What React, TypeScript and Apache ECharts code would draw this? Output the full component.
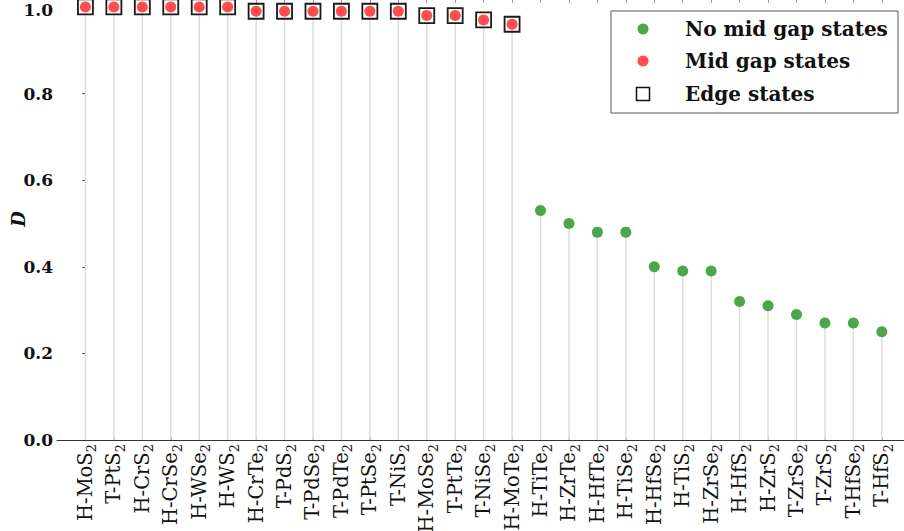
import React, { useEffect, useRef } from "react";
import * as echarts from "echarts";

// Materials with mid-gap / edge states, sorted by D
const edgeMaterials = [
  "H-MoS2", "T-PtS2", "H-CrS2", "H-CrSe2", "H-WSe2", "H-WS2", "H-CrTe2", "T-PdS2",
  "T-PdSe2", "T-PdTe2", "T-PtSe2", "T-NiS2", "H-MoSe2", "T-PtTe2", "T-NiSe2", "H-MoTe2",
];
const edgeValues = [
  1.0, 1.0, 1.0, 1.0, 1.0, 1.0, 0.99, 0.99,
  0.99, 0.99, 0.99, 0.99, 0.98, 0.98, 0.97, 0.96,
];

// Materials without mid-gap states
const bulkMaterials = [
  "H-TiTe2", "H-ZrTe2", "H-HfTe2", "H-TiSe2", "H-HfSe2", "H-TiS2", "H-ZrSe2",
  "H-HfS2", "H-ZrS2", "T-ZrSe2", "T-ZrS2", "T-HfSe2", "T-HfS2",
];
const bulkValues = [0.53, 0.5, 0.48, 0.48, 0.4, 0.39, 0.39, 0.32, 0.31, 0.29, 0.27, 0.27, 0.25];

const yTicks = [0, 0.2, 0.4, 0.6, 0.8, 1.0];
const yTitle = "D";
const legendNames = ["No mid gap states", "Mid gap states", "Edge states"];

const SERIF = "'DejaVu Serif', serif";
const RED = "#ff4d4d";
const GREEN = "#4ca64c";

const categories = [...edgeMaterials, ...bulkMaterials];
const positions = categories.map((_, i) => i);
const edgeData = edgeValues.map((v, i) => [i, v]);
const bulkData = bulkValues.map((v, i) => [edgeMaterials.length + i, v]);

function formulaLabel(name: string): string {
  const m = name.match(/^(.*?)(\d+)$/);
  if (!m) return `{m|${name}}`;
  return `{m|${m[1]}}{s|${m[2]}}`;
}

export default function App() {
  const ref = useRef<HTMLDivElement>(null);

  useEffect(() => {
    if (!ref.current) return;
    const chart = echarts.init(ref.current, null, { renderer: "svg" });

    const legendRows = [29, 61, 94];
    const graphic: any[] = [
      // y-axis title
      {
        type: "text",
        x: 18,
        y: 219,
        rotation: Math.PI / 2,
        style: {
          text: yTitle,
          fontFamily: SERIF,
          fontStyle: "italic",
          fontWeight: "bold",
          fontSize: 18,
          fill: "#111111",
          align: "center",
          verticalAlign: "middle",
        },
      },
      // legend box
      {
        type: "rect",
        shape: { x: 611, y: 11, width: 287, height: 102 },
        style: { fill: "#ffffff", stroke: "#555555", lineWidth: 1 },
        z: 100,
      },
      {
        type: "circle",
        shape: { cx: 643, cy: legendRows[0], r: 5.5 },
        style: { fill: GREEN },
        z: 101,
      },
      {
        type: "circle",
        shape: { cx: 643, cy: legendRows[1], r: 5.5 },
        style: { fill: RED },
        z: 101,
      },
      {
        type: "rect",
        shape: { x: 636.5, y: legendRows[2] - 6.5, width: 13, height: 13 },
        style: { fill: "#ffffff", stroke: "#111111", lineWidth: 1.5 },
        z: 101,
      },
      ...legendNames.map((name, i) => ({
        type: "text",
        x: 685,
        y: legendRows[i],
        style: {
          text: name,
          fontFamily: SERIF,
          fontWeight: "bold",
          fontSize: 20,
          fill: "#111111",
          verticalAlign: "middle",
          align: "left",
        },
        z: 101,
      })),
    ];

    const yLabelStyle = {
      fontFamily: SERIF,
      fontWeight: "bold",
      fontSize: 17,
      color: "#111111",
    };

    chart.setOption({
      animation: false,
      backgroundColor: "#ffffff",
      grid: {
        left: 57,
        right: 0,
        top: 0,
        bottom: 91,
        containLabel: false,
        outerBoundsMode: "none",
      },
      xAxis: [
        {
          type: "value",
          position: "bottom",
          min: -1,
          max: 28.78,
          axisLine: { show: true, lineStyle: { color: "#333333", width: 1 } },
          axisTick: {
            show: true,
            inside: true,
            length: 3,
            customValues: positions,
            lineStyle: { color: "#999999" },
          },
          axisLabel: {
            show: true,
            customValues: positions,
            rotate: 90,
            margin: 4,
            formatter: (v: number) => formulaLabel(categories[Math.round(v)] ?? ""),
            rich: {
              m: { fontFamily: SERIF, fontSize: 19.5, color: "#111111", lineHeight: 26 },
              s: {
                fontFamily: SERIF,
                fontSize: 13,
                color: "#111111",
                lineHeight: 13,
                verticalAlign: "bottom",
              },
            },
          },
          splitLine: { show: false },
        },
        {
          type: "value",
          position: "top",
          min: -1,
          max: 28.78,
          axisLine: { show: false },
          axisTick: {
            show: true,
            inside: true,
            length: 3,
            customValues: positions,
            lineStyle: { color: "#999999" },
          },
          axisLabel: { show: false },
          splitLine: { show: false },
        },
      ],
      yAxis: {
        type: "value",
        min: 0,
        max: 1.016,
        interval: 0.2,
        axisLine: { show: true, lineStyle: { color: "#333333", width: 1 } },
        axisTick: {
          show: true,
          length: 3,
          customValues: yTicks,
          lineStyle: { color: "#333333" },
        },
        axisLabel: {
          customValues: yTicks,
          margin: 4,
          // the top label sits against the chart edge, so it is nudged down a little
          formatter: (v: number) => (v >= 1 ? `{t|${v.toFixed(1)}}` : v.toFixed(1)),
          ...yLabelStyle,
          rich: {
            t: { ...yLabelStyle, padding: [6, 0, 0, 0] },
          },
        },
        splitLine: { show: false },
      },
      series: [
        {
          type: "custom",
          name: "stems",
          silent: true,
          data: [...edgeData, ...bulkData],
          renderItem: (_params: any, api: any) => {
            const x = api.value(0);
            const y = api.value(1);
            const p0 = api.coord([x, 0]);
            const p1 = api.coord([x, y]);
            return {
              type: "line",
              shape: { x1: p0[0], y1: p0[1], x2: p1[0], y2: p1[1] },
              style: { stroke: "#dddddd", lineWidth: 1.5 },
            };
          },
          z: 1,
        },
        {
          type: "scatter",
          name: legendNames[2],
          symbol: "rect",
          symbolSize: 15,
          data: edgeData,
          itemStyle: { color: "#ffffff", borderColor: "#1a1a1a", borderWidth: 1.8, opacity: 1 },
          z: 2,
        },
        {
          type: "scatter",
          name: legendNames[1],
          symbol: "circle",
          symbolSize: 11,
          data: edgeData,
          itemStyle: { color: RED, opacity: 1 },
          z: 3,
        },
        {
          type: "scatter",
          name: legendNames[0],
          symbol: "circle",
          symbolSize: 11,
          data: bulkData,
          itemStyle: { color: GREEN, opacity: 1 },
          z: 3,
        },
      ],
      graphic,
    });

    return () => chart.dispose();
  }, []);

  return (
    <div
      ref={ref}
      style={{ position: "fixed", left: 0, top: 0, width: 904, height: 531 }}
    />
  );
}
